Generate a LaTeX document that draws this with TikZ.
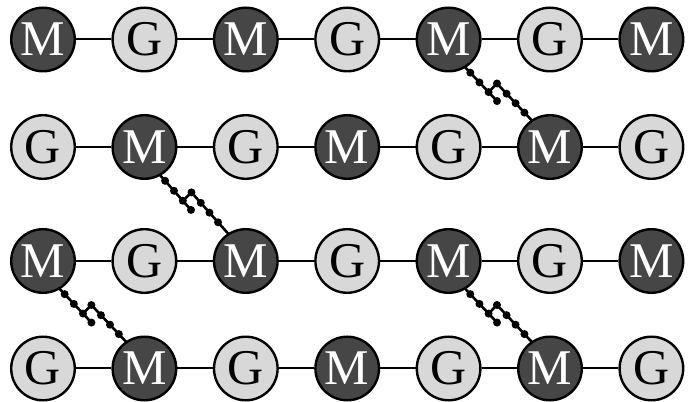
\documentclass[tikz,border=0pt]{standalone}
\usepackage{fontspec}
\setmainfont{Liberation Serif}
\usetikzlibrary{calc,backgrounds}
\definecolor{mfill}{RGB}{70,70,70}
\definecolor{gfill}{RGB}{216,216,216}
\tikzset{
  unit/.style={circle,draw=black,line width=2.4pt,minimum size=63.6pt,inner sep=0pt,font=\fontsize{50}{50}\selectfont},
  mres/.style={unit,fill=mfill,text=white},
  gres/.style={unit,fill=gfill,text=black},
  bond/.style={line width=2pt},
  chain/.style={line width=2.6pt},
}
\newcommand\mgpt[5]{\coordinate (#1) at ($ ($(#2)!#4pt!(#3)$)!#5!-90:(#3) $);}
\newcommand\mgptb[5]{\coordinate (#1) at ($ ($(#2)!#4pt!(#3)$)!#5!90:(#3) $);}
\newcommand\mglink[2]{%
  \mgpt{A0}{#1}{#2}{20}{7pt}
  \mgpt{A1}{#1}{#2}{39}{7pt}
  \mgpt{A2}{#1}{#2}{52.4}{7pt}
  \mgpt{A3}{#1}{#2}{65.7}{7pt}
  \mgpt{A4}{#1}{#2}{78}{7pt}
  \mgptb{B1}{#1}{#2}{65.2}{5pt}
  \mgptb{B2}{#1}{#2}{79.2}{5pt}
  \mgptb{B3}{#1}{#2}{92.3}{5pt}
  \mgptb{B4}{#1}{#2}{105.2}{5pt}
  \coordinate (B5) at ($(#2)!5pt!-90:(#1)$);
  \draw[chain] (A0) -- (A4);
  \draw[chain] (A3) -- (B1) -- (B5);
  \foreach \p in {A1,A2,A3,A4,B1,B2,B3,B4} {\fill (\p) circle (4pt);}
}
\begin{document}
\begin{tikzpicture}[x=1pt,y=1pt]
\useasboundingbox (0,0) rectangle (689,402);
\foreach \r/\y/\s in {1/362.5/0,2/255/1,3/141/0,4/33.5/1} {
  \foreach \c/\x in {1/43,2/144.4,3/245.8,4/347.2,5/448.6,6/550,7/651.4} {
    \pgfmathtruncatemacro\t{mod(\c+\s,2)}
    \ifnum\t=1
      \node[mres] (n\r\c) at (\x,\y) {M};
    \else
      \node[gres] (n\r\c) at (\x,\y) {G};
    \fi
  }
}
\foreach \r in {1,2,3,4} {
  \foreach \c in {1,...,6} {
    \pgfmathtruncatemacro\d{\c+1}
    \draw[bond] (n\r\c) -- (n\r\d);
  }
}
\begin{scope}[on background layer]
  \mglink{n15}{n26}
  \mglink{n22}{n33}
  \mglink{n31}{n42}
  \mglink{n35}{n46}
\end{scope}
\end{tikzpicture}
\end{document}
